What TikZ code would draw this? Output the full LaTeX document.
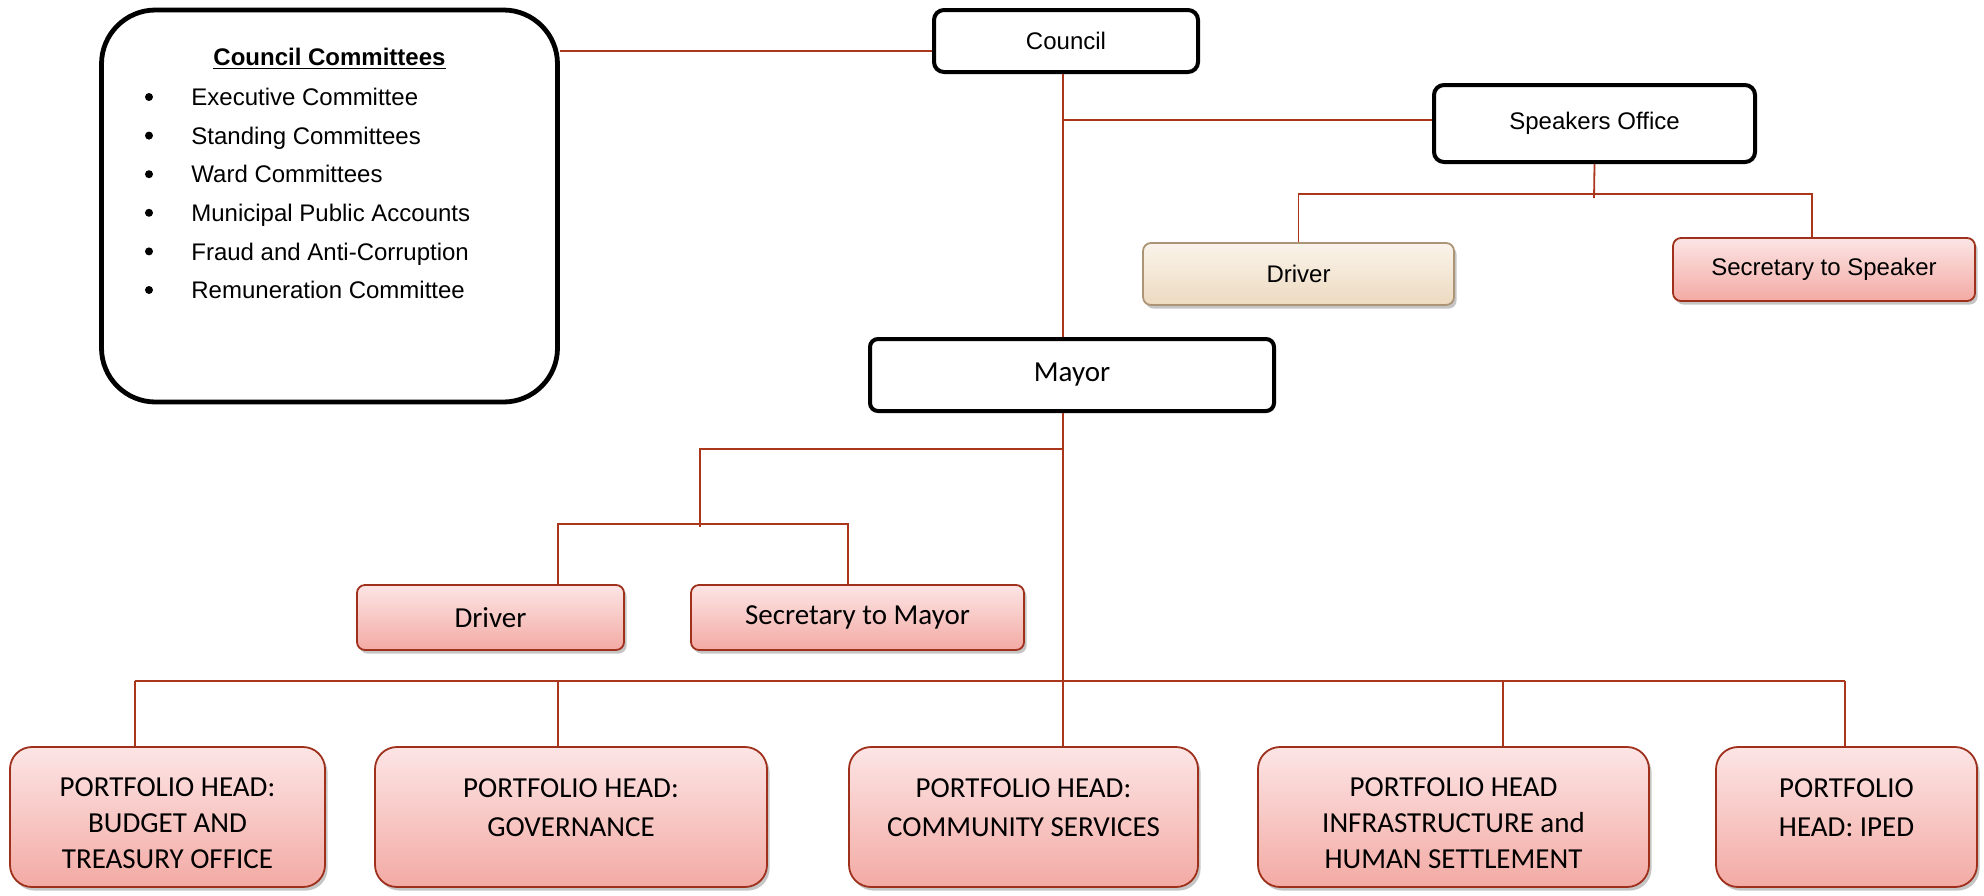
\documentclass[tikz,border=0pt]{standalone}
\usepackage{fontspec}
\setmainfont{Liberation Sans}
\newfontfamily\calibri{Carlito}
\usetikzlibrary{shadows}

\definecolor{linkred}{RGB}{170,54,28}
\definecolor{pinktop}{RGB}{252,229,229}
\definecolor{pinkbot}{RGB}{243,170,164}
\definecolor{pinkrim}{RGB}{158,48,28}
\definecolor{beigetop}{RGB}{250,243,234}
\definecolor{beigebot}{RGB}{237,218,192}
\definecolor{beigerim}{RGB}{172,148,118}

\tikzset{
	blackbox/.style={draw=black, line width=2pt, rounded corners=5pt, fill=white,
		font=\fontsize{12}{14}\selectfont},
	softbox/.style={line width=0.9pt, rounded corners=4pt,
		drop shadow={shadow xshift=1.3pt, shadow yshift=-1.8pt, fill=black!45}},
	pinkbox/.style={softbox, draw=pinkrim, top color=pinktop, bottom color=pinkbot},
	beigebox/.style={softbox, draw=beigerim, top color=beigetop, bottom color=beigebot},
	portbox/.style={pinkbox, rounded corners=11pt, minimum height=70pt, align=center,
		font=\calibri\fontsize{14.5}{18}\selectfont},
	twoline/.style={font=\calibri\fontsize{14.5}{19.5}\selectfont, text depth=9.5pt},
	threeline/.style={text height=52pt},
	link/.style={draw=linkred, line width=0.9pt},
	biglink/.style={draw=linkred, line width=1.4pt},
}

\begin{document}
\begin{tikzpicture}[x=0.5pt, y=-0.5pt]
			%%%%% FRAME %%%%%
			\useasboundingbox (0,0) rectangle (1984,895);
			
			%%%%% COMMITTEES %%%%%
			\node[draw=black, line width=2.4pt, rounded corners=27pt, minimum width=228pt, minimum height=196pt] (comm) at (329.5,206) {};
			\node[font=\bfseries\fontsize{12}{14}\selectfont] (commtitle) at (329.5,59) {\underline{Council Committees}};
			\foreach \t [count=\i] in {Executive Committee, Standing Committees, Ward Committees,
				Municipal Public Accounts, Fraud and Anti-Corruption, Remuneration Committee}
			{
				\fill (149, 97+38.6*\i-38.6) circle (4);
				\node[anchor=base west, inner sep=0pt, font=\fontsize{12}{14}\selectfont] (item\i) at (191, 105.6+38.6*\i-38.6) {\t};
			}
			
			%%%%% TOP %%%%%
			\node[blackbox, minimum width=132pt, minimum height=31pt] (council) at (1066,41) {Council};
			\node[blackbox, minimum width=160.5pt, minimum height=38.5pt] (speak) at (1594.5,123.5) {Speakers Office};
			\node[beigebox, minimum width=155.5pt, minimum height=31pt, font=\fontsize{12}{14}\selectfont] (sdriver) at (1298.5,274) {Driver};
			\node[pinkbox, minimum width=151pt, minimum height=31.5pt, font=\fontsize{12}{14}\selectfont] (ssec) at (1824,269.5) {Secretary to Speaker};
			
			%%%%% MAYOR %%%%%
			\node[blackbox, rounded corners=4pt, minimum width=202pt, minimum height=36pt, font=\calibri\fontsize{14.5}{17}\selectfont] (mayor) at (1072,375) {Mayor};
			\node[pinkbox, minimum width=133.5pt, minimum height=32.5pt, font=\calibri\fontsize{14.5}{17}\selectfont] (mdriver) at (490.5,617.5) {Driver};
			\node[pinkbox, minimum width=166.5pt, minimum height=32.5pt, font=\calibri\fontsize{14.5}{17}\selectfont] (msec) at (857.5,617.5) {Secretary to Mayor};
			
			%%%%% PORTFOLIOS %%%%%
			\node[portbox, threeline, minimum width=157.5pt] (p1) at (167.5,817) {PORTFOLIO HEAD:\\BUDGET AND\\TREASURY OFFICE};
			\node[portbox, twoline, minimum width=196pt] (p2) at (571,817) {PORTFOLIO HEAD:\\GOVERNANCE};
			\node[portbox, twoline, minimum width=174.5pt] (p3) at (1023.5,817) {PORTFOLIO HEAD:\\COMMUNITY SERVICES};
			\node[portbox, threeline, minimum width=195.5pt] (p4) at (1453.5,817) {PORTFOLIO HEAD\\INFRASTRUCTURE and\\HUMAN SETTLEMENT};
			\node[portbox, twoline, minimum width=130.5pt] (p5) at (1846.5,817) {PORTFOLIO\\HEAD: IPED};
			
			%%%%% LINKS %%%%%
			\coordinate (trunk) at (1063,0);
			\coordinate (cc) at (0,51);
			\coordinate (sl) at (0,120);
			\draw[link] (comm.east |- cc) -- (council.west |- cc);
			\draw[link] (council.south -| trunk) -- (mayor.north -| trunk);
			\draw[biglink] (trunk |- sl) -- (speak.west |- sl);
			
			\coordinate (sbar) at (1594,194);
			\coordinate (ssecin) at (1812,0);
			\draw[link] (speak.south) -- ([yshift=-2pt]sbar);
			\draw[link] (sdriver.north) -- (sdriver.north |- sbar) -- (ssecin |- sbar) -- (ssecin |- ssec.north);
			
			\coordinate (mbend) at (700,449);
			\coordinate (mbar) at (0,524);
			\coordinate (mdin) at (558,0);
			\coordinate (msin) at (848,0);
			\draw[link] (mayor.south -| trunk) -- (p3.north -| trunk);
			\draw[link] (mbend -| trunk) -- (mbend) -- ([yshift=-1.5pt]mbend |- mbar);
			\draw[link] (mdin |- mdriver.north) -- (mdin |- mbar) -- (msin |- mbar) -- (msin |- msec.north);
			
			\coordinate (bus) at (0,681);
			\coordinate (j1) at (135,0);
			\coordinate (j2) at (558,0);
			\coordinate (j4) at (1503,0);
			\coordinate (j5) at (1845,0);
			\draw[biglink] (j1 |- bus) -- (j5 |- bus);
			\foreach \i in {1,2,4,5}
				\draw[link] (j\i |- bus) -- (j\i |- p\i.north);
			
		\end{tikzpicture}
\end{document}
